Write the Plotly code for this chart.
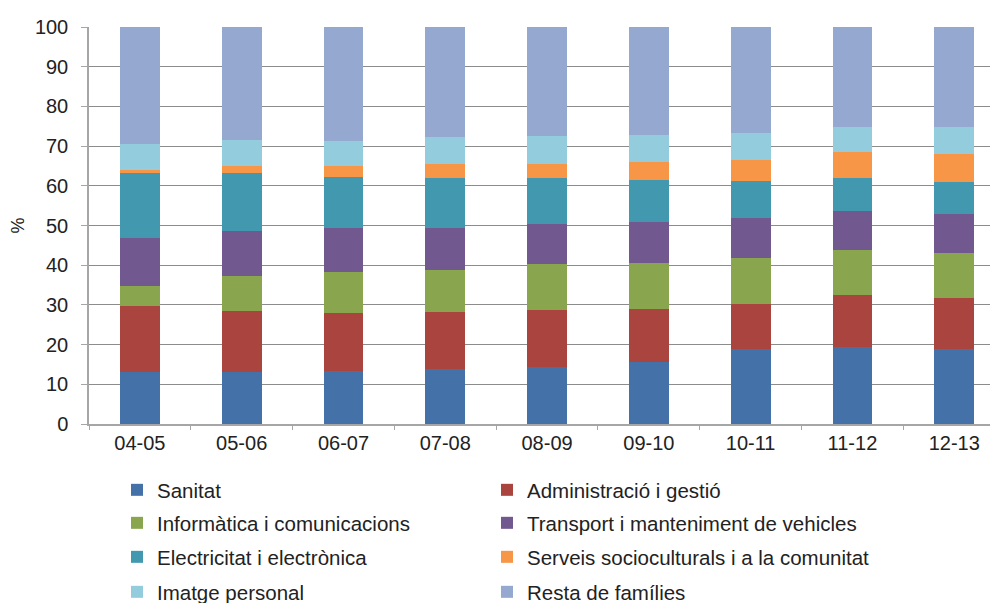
import plotly.graph_objects as go

years = ['04-05', '05-06', '06-07', '07-08', '08-09', '09-10', '10-11', '11-12', '12-13']

sanitat = [13.0, 13.0, 13.3, 13.9, 14.3, 15.7, 18.9, 19.4, 18.9]
administracio = [16.8, 15.5, 14.7, 14.2, 14.5, 13.3, 11.4, 13.0, 12.8]
informatica = [5.0, 8.8, 10.3, 10.7, 11.4, 11.6, 11.6, 11.4, 11.4]
transport = [12.1, 11.3, 11.1, 10.6, 10.1, 10.2, 9.9, 9.8, 9.7]
electricitat = [16.2, 14.5, 12.9, 12.6, 11.6, 10.7, 9.3, 8.4, 8.2]
serveis = [1.0, 1.9, 2.7, 3.5, 3.5, 4.4, 5.4, 6.4, 7.0]
imatge = [6.4, 6.5, 6.4, 6.9, 7.1, 6.8, 6.7, 6.5, 6.7]
resta = [29.5, 28.5, 28.6, 27.6, 27.5, 27.3, 26.8, 25.1, 25.3]

series = [
    ('Sanitat', sanitat, '#4472A8'),
    ('Administració i gestió', administracio, '#A9443F'),
    ('Informàtica i comunicacions', informatica, '#89A54E'),
    ('Transport i manteniment de vehicles', transport, '#71588F'),
    ('Electricitat i electrònica', electricitat, '#4198AF'),
    ('Serveis socioculturals i a la comunitat', serveis, '#F79646'),
    ('Imatge personal', imatge, '#93CDDD'),
    ('Resta de famílies', resta, '#94A8D0'),
]

font = 'Liberation Sans, Arial, sans-serif'

# page body adds an 8px offset, so the figure is a bit smaller than the window
W, H = 990, 595

# legend laid out as 2 columns x 4 rows, one small legend per entry
col_x = [109, 479]
row_y = [482, 515, 549, 584]

fig = go.Figure()
legend_cfg = {}
for i, (name, vals, color) in enumerate(series):
    key = 'legend' if i == 0 else 'legend%d' % (i + 1)
    fig.add_trace(go.Bar(
        x=years, y=vals, name=name,
        marker=dict(color=color, line=dict(width=0)),
        legend=key,
    ))
    legend_cfg[key] = dict(
        orientation='h',
        xref='container', yref='container',
        x=col_x[i % 2] / W, y=1 - row_y[i // 2] / H,
        xanchor='left', yanchor='middle',
        font=dict(family=font, size=20.5, color='#222'),
        bgcolor='rgba(0,0,0,0)',
    )

fig.update_layout(
    width=W, height=H,
    barmode='stack',
    bargap=0.61,
    showlegend=True,
    plot_bgcolor='white',
    paper_bgcolor='white',
    margin=dict(l=81, r=0, t=19, b=179, autoexpand=False),
    font=dict(family=font, size=20, color='#222'),
    xaxis=dict(
        type='category',
        range=[-0.5, 8.43],
        automargin=False,
        showline=True, linecolor='#A6A6A6', linewidth=1.5,
        ticks='outside', tickson='boundaries', ticklen=4, tickcolor='#A6A6A6',
        tickfont=dict(size=20, color='#222'),
        tickangle=0,
        showgrid=False,
    ),
    yaxis=dict(
        range=[0, 100], dtick=10,
        automargin=False,
        showline=True, linecolor='#A6A6A6', linewidth=1.5,
        ticks='outside', ticklen=6, tickcolor='#A6A6A6',
        ticklabelstandoff=9,
        showgrid=True, gridcolor='#8C8C8C', gridwidth=1.2,
        tickfont=dict(size=20, color='#222'),
        title=dict(text='%', font=dict(size=18, color='#222'), standoff=12),
        zeroline=False,
    ),
    **legend_cfg,
)

fig.write_html('out.html')
